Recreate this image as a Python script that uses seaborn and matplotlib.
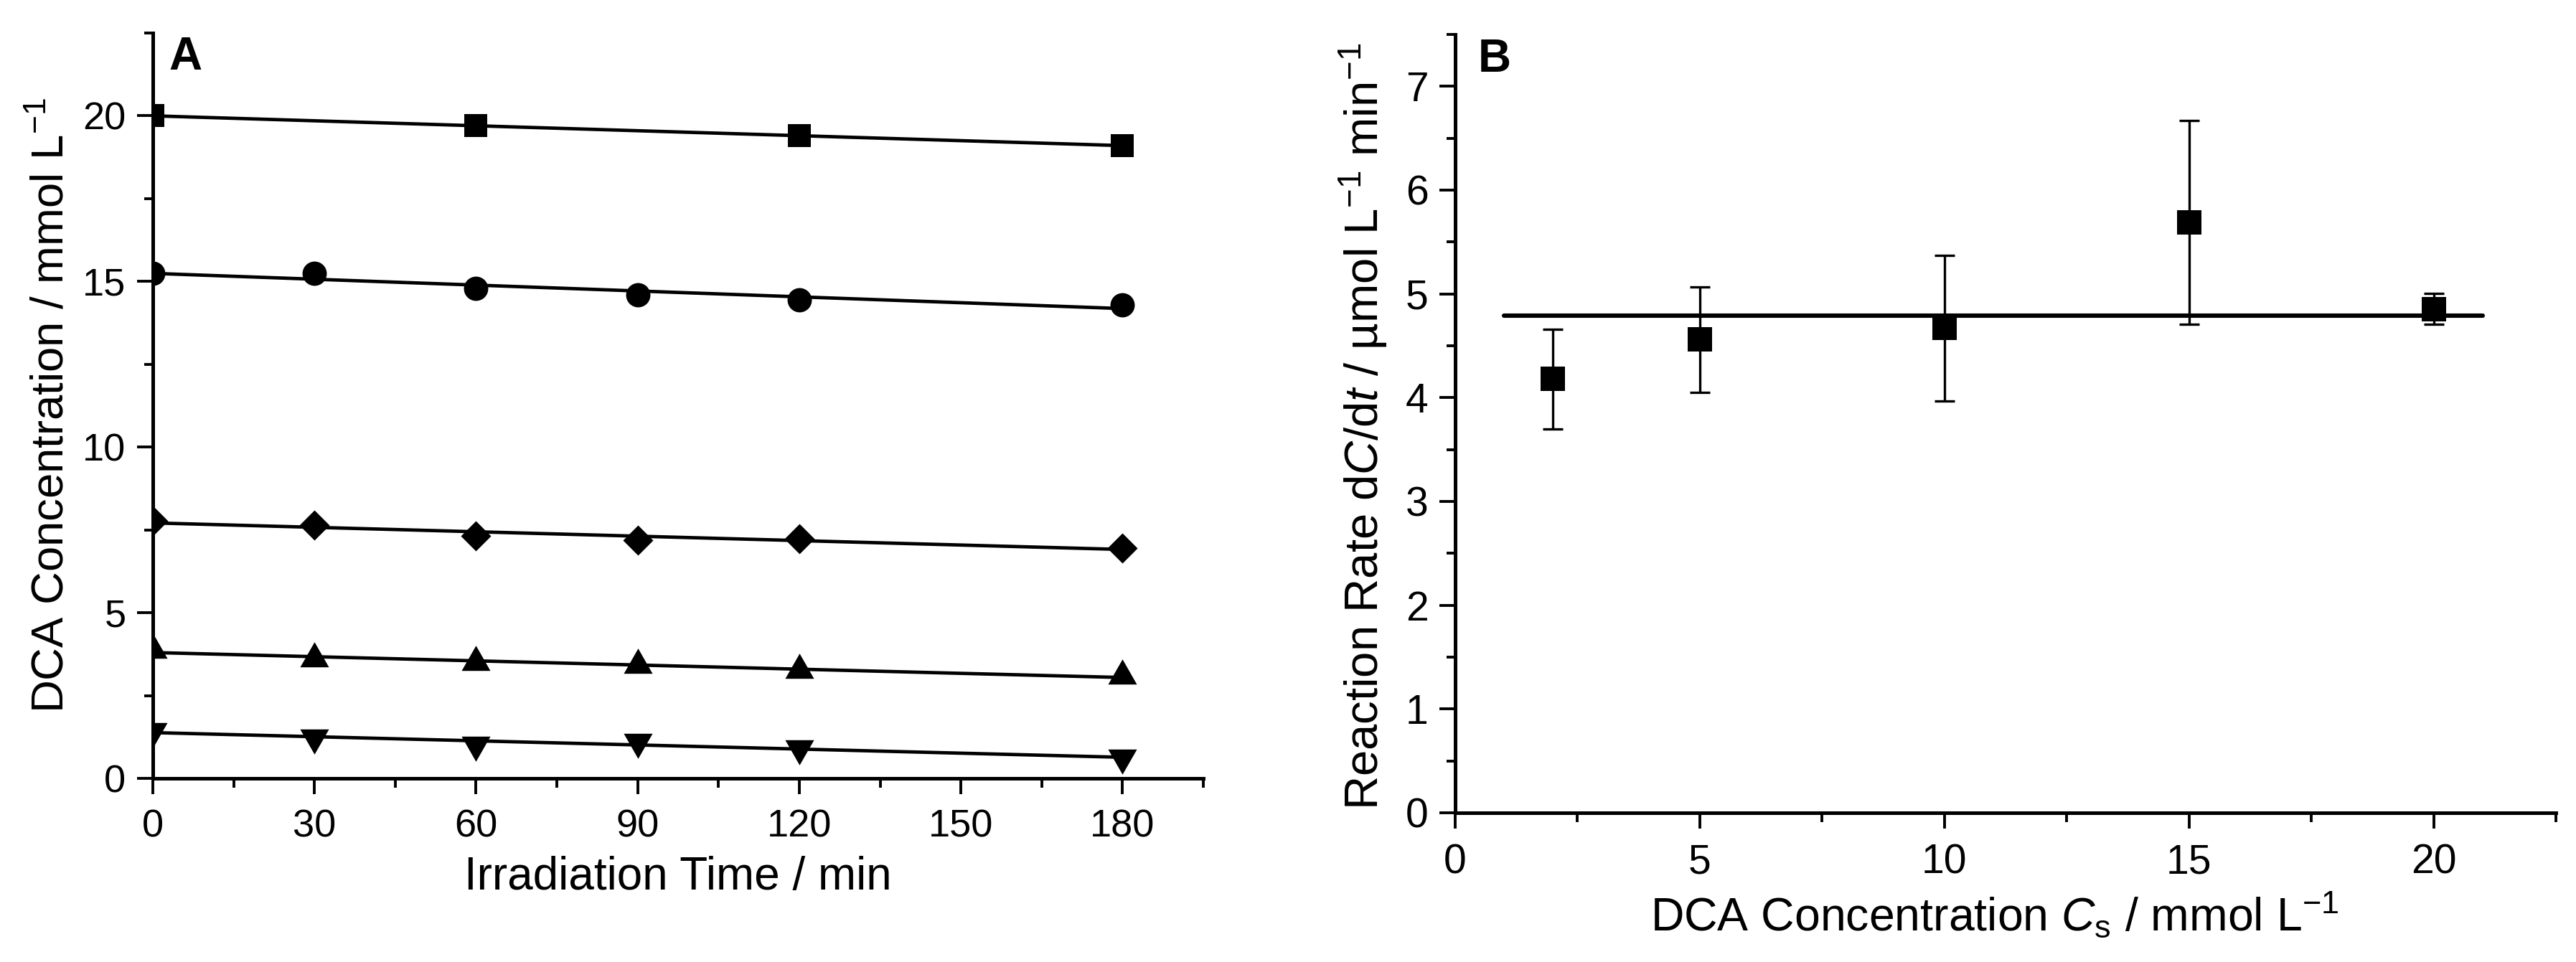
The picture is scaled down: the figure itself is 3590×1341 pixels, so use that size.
import numpy as np
import matplotlib
matplotlib.use('Agg')
import matplotlib.pyplot as plt
import seaborn as sns
from matplotlib.ticker import MultipleLocator

# panel A: DCA concentration vs irradiation time (mmol/L)
time_min = [0, 30, 60, 90, 120, 180]
time_sq = [0, 60, 120, 180]
conc_20 = [20.0, 19.7, 19.4, 19.1]
conc_15 = [15.25, 15.25, 14.78, 14.6, 14.45, 14.3]
conc_7 = [7.78, 7.64, 7.32, 7.2, 7.23, 6.96]
conc_4 = [3.88, 3.62, 3.51, 3.42, 3.26, 3.09]
conc_1 = [1.42, 1.24, 1.02, 1.10, 0.90, 0.62]

# panel B: reaction rate vs DCA concentration
cs = [2, 5, 10, 15, 20]
rate = [4.18, 4.56, 4.67, 5.69, 4.855]
rate_err = [0.48, 0.51, 0.70, 0.98, 0.15]
mean_span = [1, 21]

# origin style triangles, centred on the centroid
tri_up = [(0, 23.3), (-20, -11.7), (20, -11.7)]
tri_dn = [(0, -23.3), (-20, 11.7), (20, 11.7)]

sns.set_theme(style='ticks')
plt.rcParams['font.family'] = ['Liberation Sans', 'DejaVu Sans']
plt.rcParams['mathtext.fontset'] = 'custom'
plt.rcParams['mathtext.rm'] = 'Liberation Sans'
plt.rcParams['mathtext.it'] = 'Liberation Sans:italic'
plt.rcParams['mathtext.bf'] = 'Liberation Sans:bold'
plt.rcParams['text.color'] = 'black'
plt.rcParams['axes.labelcolor'] = 'black'

fig = plt.figure(figsize=(17.95, 6.705), dpi=200)
ax_a = fig.add_axes([0.05933, 0.19090, 0.40780, 0.77480])
ax_b = fig.add_axes([0.56490, 0.15511, 0.42730, 0.80910])

series = [
    (time_sq, conc_20, 's', 11.2),
    (time_min, conc_15, 'o', 12.2),
    (time_min, conc_7, 'D', 10.7),
    (time_min, conc_4, tri_up, 16.8),
    (time_min, conc_1, tri_dn, 16.8),
]
for x, y, m, ms in series:
    sns.regplot(x=np.array(x), y=np.array(y), ax=ax_a, ci=None, marker=m, color='black',
                scatter_kws={'s': ms ** 2, 'linewidths': 0, 'alpha': 1},
                line_kws={'lw': 1.7})

ax_a.set_xlim(0, 195)
ax_a.set_ylim(0, 22.5)
ax_a.xaxis.set_major_locator(MultipleLocator(30))
ax_a.xaxis.set_minor_locator(MultipleLocator(15))
ax_a.yaxis.set_major_locator(MultipleLocator(5))
ax_a.yaxis.set_minor_locator(MultipleLocator(2.5))
ax_a.set_xticks([0, 30, 60, 90, 120, 150, 180])
ax_a.set_xlabel('Irradiation Time / min', fontsize=23)
ax_a.set_ylabel('DCA Concentration / mmol L$^{-1}$', fontsize=22.8)
ax_a.xaxis.set_label_coords(0.5, -0.104)
ax_a.yaxis.set_label_coords(-0.077, 0.5)
ax_a.text(0.015, 0.996, 'A', transform=ax_a.transAxes, fontsize=23,
          fontweight='bold', va='top', ha='left')

# panel B
mean_rate = np.mean(rate)
sns.lineplot(x=mean_span, y=[mean_rate, mean_rate], ax=ax_b, color='black', lw=2.2)
ax_b.errorbar(cs, rate, yerr=rate_err, fmt='none', ecolor='black',
              elinewidth=1.2, capsize=5, capthick=1.2, zorder=2)
sns.scatterplot(x=cs, y=rate, ax=ax_b, marker='s', s=11.9 ** 2, color='black',
                linewidth=0, zorder=3)

ax_b.set_xlim(0, 22.5)
ax_b.set_ylim(0, 7.5)
ax_b.xaxis.set_major_locator(MultipleLocator(5))
ax_b.xaxis.set_minor_locator(MultipleLocator(2.5))
ax_b.yaxis.set_major_locator(MultipleLocator(1))
ax_b.yaxis.set_minor_locator(MultipleLocator(0.5))
ax_b.set_xticks([0, 5, 10, 15, 20])
ax_b.set_yticks(range(8))
ax_b.set_xlabel('DCA Concentration $C_\\mathrm{s}$ / mmol L$^{-1}$', fontsize=23.2)
ax_b.set_ylabel('Reaction Rate d$C$/d$t$ / µmol L$^{-1}$ min$^{-1}$', fontsize=23.5)
ax_b.xaxis.set_label_coords(0.49, -0.100)
ax_b.yaxis.set_label_coords(-0.059, 0.496)
ax_b.text(0.021, 0.995, 'B', transform=ax_b.transAxes, fontsize=23,
          fontweight='bold', va='top', ha='left')

for ax, fs in [(ax_a, 19.5), (ax_b, 20.5)]:
    sns.despine(ax=ax)
    for side in ['left', 'bottom']:
        ax.spines[side].set_linewidth(1.8)
        ax.spines[side].set_color('black')
    ax.tick_params(which='major', direction='out', length=8, width=1.4,
                   colors='black', labelsize=fs)
    ax.tick_params(which='minor', direction='out', length=4.5, width=1.4, colors='black')
    ax.tick_params(axis='x', which='major', pad=7.2)
    ax.tick_params(axis='y', which='major', pad=5.5)

fig.savefig('out.png', dpi=200)
